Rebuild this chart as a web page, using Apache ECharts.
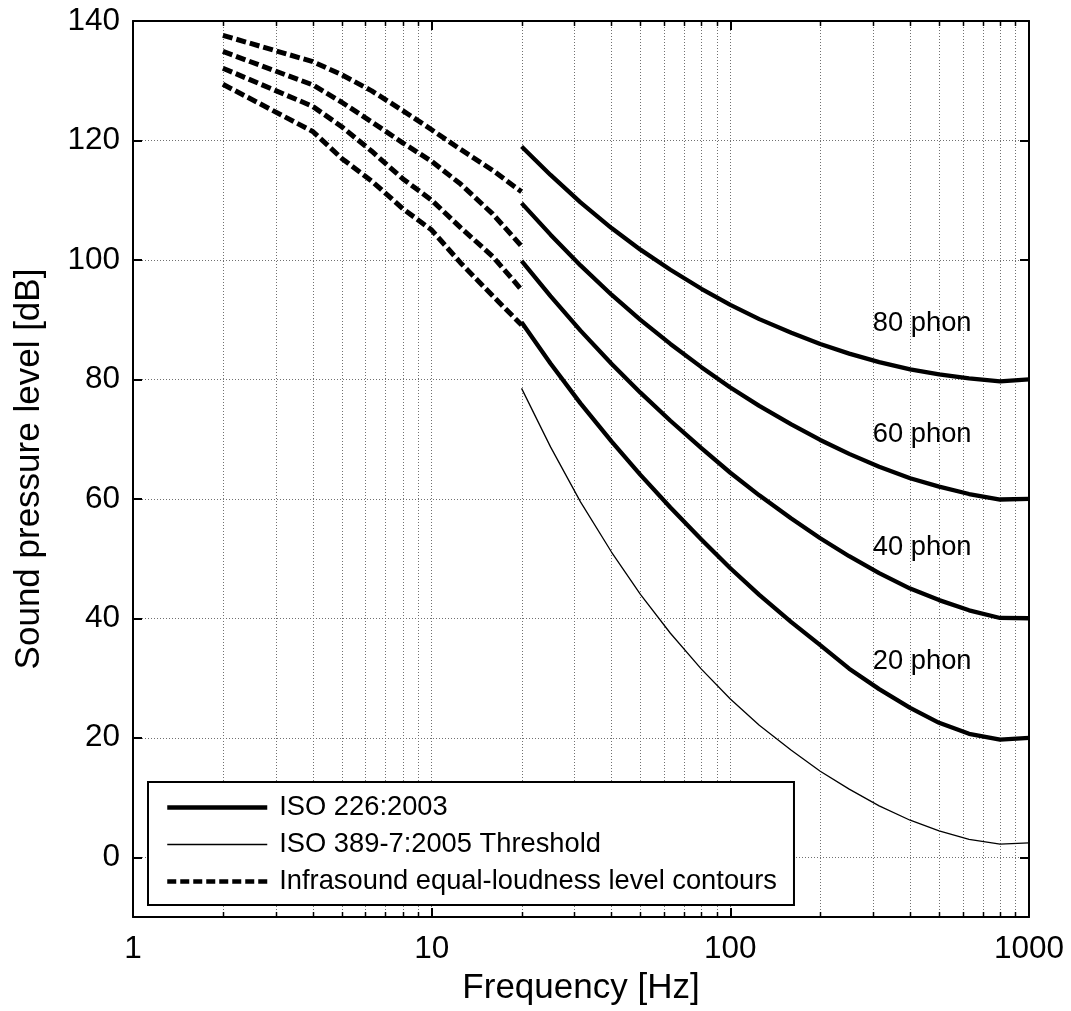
<!DOCTYPE html>
<html>
<head>
<meta charset="utf-8">
<script src="https://cdn.jsdelivr.net/npm/echarts@6/dist/echarts.min.js"></script>
<style>html,body{margin:0;padding:0;background:#fff}#c{width:1071px;height:1011px}</style>
</head>
<body>
<div id="c"></div>
<script>
// ---- data ----
const isoFreqs = [20,25,31.5,40,50,63,80,100,125,160,200,250,315,400,500,630,800,1000];
const iso20 = [89.58,82.65,75.98,69.62,64.02,58.55,53.19,48.38,43.94,39.37,35.51,31.57,28.15,25.02,22.51,20.66,19.69,20.00];
const iso40 = [99.85,93.94,88.17,82.63,77.78,73.08,68.48,64.37,60.59,56.70,53.41,50.40,47.58,44.98,43.05,41.34,40.06,40.01];
const iso60 = [109.51,104.23,99.08,94.18,89.96,85.94,82.05,78.65,75.56,72.47,69.86,67.53,65.39,63.45,62.05,60.81,59.89,60.01];
const iso80 = [118.99,114.23,109.65,105.34,101.72,98.36,95.17,92.48,90.09,87.82,85.92,84.31,82.89,81.68,80.86,80.17,79.67,80.00];
const threshold = [78.5,68.7,59.5,51.1,44.0,37.5,31.5,26.5,22.1,17.9,14.4,11.4,8.6,6.2,4.4,3.0,2.2,2.4];

const infraFreqs = [2,4,5,6.3,8,10,12.5,16,20];
const infraA = [137.6,133.2,131.0,128.3,125.0,121.8,118.5,115.0,111.4];
const infraB = [134.9,129.3,126.4,123.1,119.6,116.5,112.7,107.7,102.3];
const infraC = [132.1,125.7,122.3,118.2,113.6,110.0,105.4,100.6,95.0];
const infraD = [129.4,121.5,117.0,113.2,108.6,105.0,99.5,94.0,89.1];

const phonLabelFreq = [300,300,300,300];
const phonLabelLevel = [32.7,51.8,70.7,89.4];
const phonLabelText = ['20 phon','40 phon','60 phon','80 phon'];

const yTicks = [0,20,40,60,80,100,120,140];
const minorFreqs = [2,3,4,5,6,7,8,9,20,30,40,50,60,70,80,90,200,300,400,500,600,700,800,900];

const legendNames = ['ISO 226:2003','ISO 389-7:2005 Threshold','Infrasound equal-loudness level contours'];

// ---- helpers ----
const FONT = "'Liberation Sans', Arial, Helvetica, sans-serif";
const pairs = (xs, ys) => xs.map((x,i)=>[x, ys[i]]);
const gridColor = '#707070';
const DASH = [10,4];

function isoSeries(vals){
  return {type:'line', name:legendNames[0], data:pairs(isoFreqs, vals), symbol:'none', showSymbol:false,
    lineStyle:{color:'#000', width:4.3}, itemStyle:{color:'#000'}, z:5, silent:true};
}
function infraSeries(vals){
  return {type:'line', name:legendNames[2], data:pairs(infraFreqs, vals), symbol:'none', showSymbol:false,
    lineStyle:{color:'#000', width:5, type:DASH, cap:'butt'}, itemStyle:{color:'#000'}, z:5, silent:true};
}

const chart = echarts.init(document.getElementById('c'), null, {renderer:'canvas'});
chart.setOption({
  animation:false,
  backgroundColor:'#fff',
  textStyle:{fontFamily:FONT, color:'#000'},
  grid:{left:133, right:42, top:21, bottom:94, containLabel:false},
  legend:{
    show:true, orient:'vertical', left:148, top:782,
    data:[
      {name:legendNames[0], itemStyle:{opacity:0}, lineStyle:{width:4.5, color:'#000', type:'solid'}},
      {name:legendNames[1], itemStyle:{opacity:0}, lineStyle:{width:1.3, color:'#000', type:'solid'}},
      {name:legendNames[2], itemStyle:{opacity:0}, lineStyle:{width:4.5, color:'#000', type:[9,4]}}
    ],
    itemWidth:100, itemHeight:14, itemGap:10,
    padding:[12,17,10,17],
    borderColor:'#000', borderWidth:2, backgroundColor:'#fff',
    textStyle:{fontFamily:FONT, fontSize:27.3, color:'#000', padding:[0,0,0,7]},
    selectedMode:false
  },
  xAxis:[{
    type:'log', logBase:10, min:1, max:1000, position:'bottom',
    name:'Frequency [Hz]', nameLocation:'middle', nameGap:54,
    nameTextStyle:{fontFamily:FONT, fontSize:35, color:'#000'},
    axisLine:{show:true, onZero:false, lineStyle:{color:'#000', width:2}},
    axisTick:{show:true, inside:true, length:9, lineStyle:{color:'#000', width:2}},
    axisLabel:{fontFamily:FONT, fontSize:31.5, color:'#000', margin:16, formatter:v=>String(v)},
    splitLine:{show:true, lineStyle:{color:gridColor, width:1, type:[1,2]}},
    minorTick:{show:false}
  },{
    type:'log', logBase:10, min:1, max:1000, position:'top',
    axisLine:{show:true, onZero:false, lineStyle:{color:'#000', width:2}},
    axisTick:{show:true, inside:true, length:9, lineStyle:{color:'#000', width:2}},
    axisLabel:{show:false}, splitLine:{show:false}
  }],
  yAxis:[{
    type:'value', min:-10, max:140, position:'left',
    name:'Sound pressure level [dB]', nameLocation:'middle', nameGap:86, nameRotate:90,
    nameTextStyle:{fontFamily:FONT, fontSize:35, color:'#000'},
    axisLine:{show:true, onZero:false, lineStyle:{color:'#000', width:2}},
    axisTick:{show:true, inside:true, length:9, lineStyle:{color:'#000', width:2}, customValues:yTicks},
    axisLabel:{fontFamily:FONT, fontSize:31.5, color:'#000', margin:13, customValues:yTicks},
    splitLine:{show:true, lineStyle:{color:gridColor, width:1, type:[1,2]}}
  },{
    type:'value', min:-10, max:140, position:'right',
    axisLine:{show:true, onZero:false, lineStyle:{color:'#000', width:2}},
    axisTick:{show:true, inside:true, length:9, lineStyle:{color:'#000', width:2}, customValues:yTicks},
    axisLabel:{show:false, customValues:yTicks},
    splitLine:{show:false}
  }],
  series:[
    {
      type:'custom', name:'minorGrid', data:minorFreqs.map(f=>[f,0]), z:1, silent:true,
      encode:{x:0, y:1}, clip:false,
      renderItem:function(params, api){
        const cs = params.coordSys;
        const x = Math.round(api.coord([api.value(0), 0])[0]) + 0.5;
        const top = cs.y, bot = cs.y + cs.height;
        return {type:'group', children:[
          {type:'line', shape:{x1:x, y1:top, x2:x, y2:bot}, style:{stroke:gridColor, lineWidth:1, lineDash:[1,2]}},
          {type:'line', shape:{x1:x, y1:bot, x2:x, y2:bot-5}, style:{stroke:'#000', lineWidth:1.5}},
          {type:'line', shape:{x1:x, y1:top, x2:x, y2:top+5}, style:{stroke:'#000', lineWidth:1.5}}
        ]};
      }
    },
    isoSeries(iso20), isoSeries(iso40), isoSeries(iso60), isoSeries(iso80),
    {type:'line', name:legendNames[1], data:pairs(isoFreqs, threshold), symbol:'none', showSymbol:false,
      lineStyle:{color:'#000', width:1.3}, itemStyle:{color:'#000'}, z:5, silent:true},
    infraSeries(infraA), infraSeries(infraB), infraSeries(infraC), infraSeries(infraD),
    {
      type:'scatter', name:'phonLabels', symbolSize:0, silent:true, z:6,
      itemStyle:{color:'#000', opacity:1},
      data:phonLabelFreq.map((f,i)=>({value:[f, phonLabelLevel[i]], label:{formatter:phonLabelText[i]}})),
      label:{show:true, position:'right', distance:0, fontFamily:FONT, fontSize:27.3, color:'#000', opacity:1}
    }
  ]
});
</script>
</body>
</html>
